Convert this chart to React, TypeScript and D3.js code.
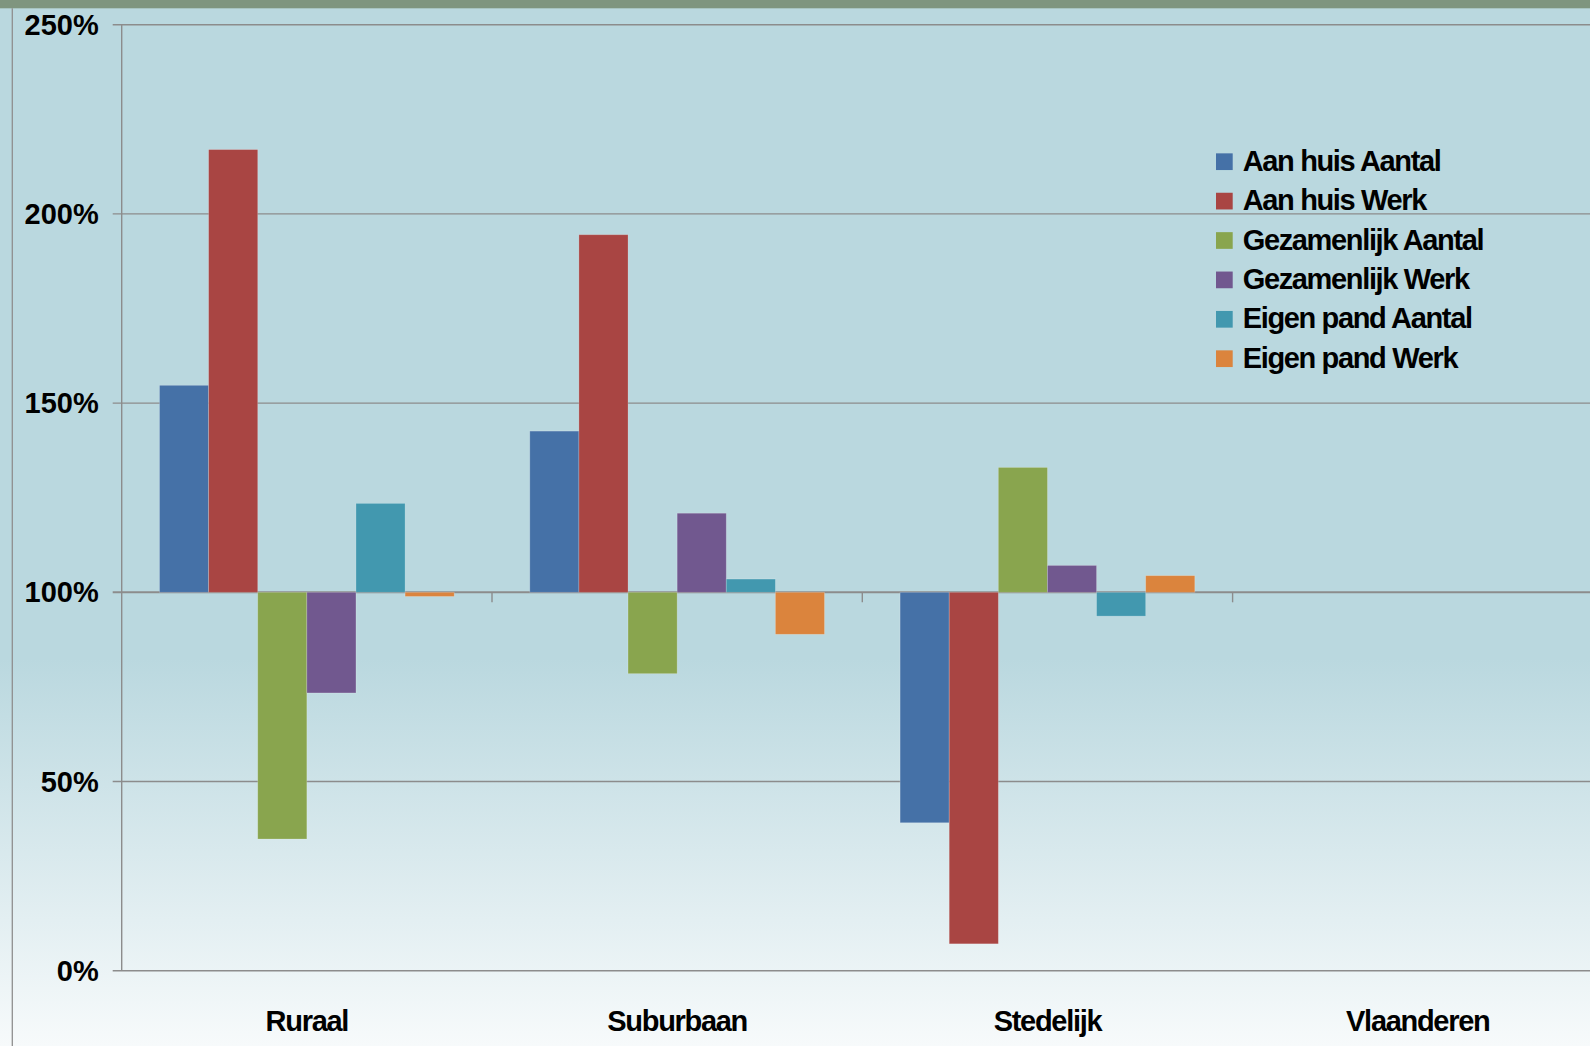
import React from "react";
import * as d3 from "d3";

const categories = ["Ruraal", "Suburbaan", "Stedelijk", "Vlaanderen"];
const seriesNames = [
  "Aan huis Aantal",
  "Aan huis Werk",
  "Gezamenlijk Aantal",
  "Gezamenlijk Werk",
  "Eigen pand Aantal",
  "Eigen pand Werk",
];
const seriesColors = ["#4571a7", "#a94543", "#89a54e", "#71588f", "#4298af", "#db843d"];
// values per series, in order of categories (percent)
const aanHuisAantal = [154.7, 142.6, 39.1, 100];
const aanHuisWerk = [217.0, 194.5, 7.1, 100];
const gezamenlijkAantal = [34.8, 78.5, 133.0, 100];
const gezamenlijkWerk = [73.4, 120.9, 107.1, 100];
const eigenPandAantal = [123.5, 103.5, 93.7, 100];
const eigenPandWerk = [98.9, 88.9, 104.4, 100];
const seriesValues = [
  aanHuisAantal,
  aanHuisWerk,
  gezamenlijkAantal,
  gezamenlijkWerk,
  eigenPandAantal,
  eigenPandWerk,
];
const yTicks = [0, 50, 100, 150, 200, 250];
const baselineValue = 100;

const W = 1590;
const H = 1046;
const FONT = "'Liberation Sans', Arial, Helvetica, sans-serif";

export default function App() {
  const plotLeft = 121.7;
  const catW = 370.3;
  const x = d3
    .scaleBand<string>()
    .domain(categories)
    .range([plotLeft, plotLeft + catW * categories.length])
    .padding(0);
  const gap = 37.8;
  const xs = d3
    .scaleBand<string>()
    .domain(seriesNames)
    .range([gap, catW - gap])
    .padding(0);
  const y = d3.scaleLinear().domain([0, 250]).range([970.7, 24.7]);
  const y0 = y(baselineValue);
  const gridColor = "#8c8c8c";

  return (
    <svg
      width={W}
      height={H}
      style={{ position: "absolute", left: 0, top: 0, display: "block" }}
      fontFamily={FONT}
    >
      <defs>
        <linearGradient id="bg" x1="0" y1="0" x2="0" y2="1">
          <stop offset="0" stopColor="#bad8df" />
          <stop offset="0.63" stopColor="#bad8df" />
          <stop offset="1" stopColor="#f7fafb" />
        </linearGradient>
      </defs>
      <rect x={0} y={0} width={W} height={H} fill="url(#bg)" />
      <rect x={0} y={0} width={W} height={8.3} fill="#7f957f" />
      <line x1={12.3} x2={12.3} y1={8.3} y2={H} stroke="#8f8f8f" strokeWidth={1.3} />

      {/* gridlines */}
      {yTicks.map((t) => (
        <line
          key={"g" + t}
          x1={plotLeft - 9}
          x2={W}
          y1={y(t)}
          y2={y(t)}
          stroke={gridColor}
          strokeWidth={t === baselineValue ? 2 : 1.4}
        />
      ))}

      {/* y axis */}
      <line x1={plotLeft} x2={plotLeft} y1={y(250)} y2={y(0)} stroke={gridColor} strokeWidth={1.4} />
      {yTicks.map((t) => (
        <text
          key={"yl" + t}
          x={98.7}
          y={y(t)}
          textAnchor="end"
          dominantBaseline="central"
          fontSize={29}
          fontWeight="bold"
          fill="#000"
        >
          {t + "%"}
        </text>
      ))}

      {/* bars */}
      {categories.map((c, ci) => (
        <g key={c} transform={`translate(${x(c)},0)`}>
          {seriesNames.map((s, si) => {
            const v = seriesValues[si][ci];
            const yv = y(v);
            const top = Math.min(yv, y0);
            const h = Math.abs(yv - y0);
            return (
              <rect
                key={s}
                x={xs(s)}
                y={top}
                width={xs.bandwidth()}
                height={h}
                fill={seriesColors[si]}
                stroke="#ffffff"
                strokeOpacity={0.25}
                strokeWidth={0.8}
              />
            );
          })}
        </g>
      ))}

      {/* x axis ticks at category boundaries */}
      {categories.slice(1).map((c) => (
        <line
          key={"xt" + c}
          x1={x(c)}
          x2={x(c)}
          y1={y0}
          y2={y0 + 10}
          stroke={gridColor}
          strokeWidth={1.4}
        />
      ))}

      {/* category labels */}
      {categories.map((c) => (
        <text
          key={"xl" + c}
          x={(x(c) as number) + x.bandwidth() / 2}
          y={1030.7}
          textAnchor="middle"
          fontSize={29}
          fontWeight="bold"
          letterSpacing={-1.3}
          fill="#000"
        >
          {c}
        </text>
      ))}

      {/* legend */}
      {seriesNames.map((s, i) => {
        const cy = 161.7 + i * 39.4;
        return (
          <g key={"lg" + s}>
            <rect x={1216} y={cy - 8.35} width={16.7} height={16.7} fill={seriesColors[i]} />
            <text
              x={1242.7}
              y={cy + 9}
              fontSize={29}
              fontWeight="bold"
              letterSpacing={-1.35}
              fill="#000"
            >
              {s}
            </text>
          </g>
        );
      })}
    </svg>
  );
}
